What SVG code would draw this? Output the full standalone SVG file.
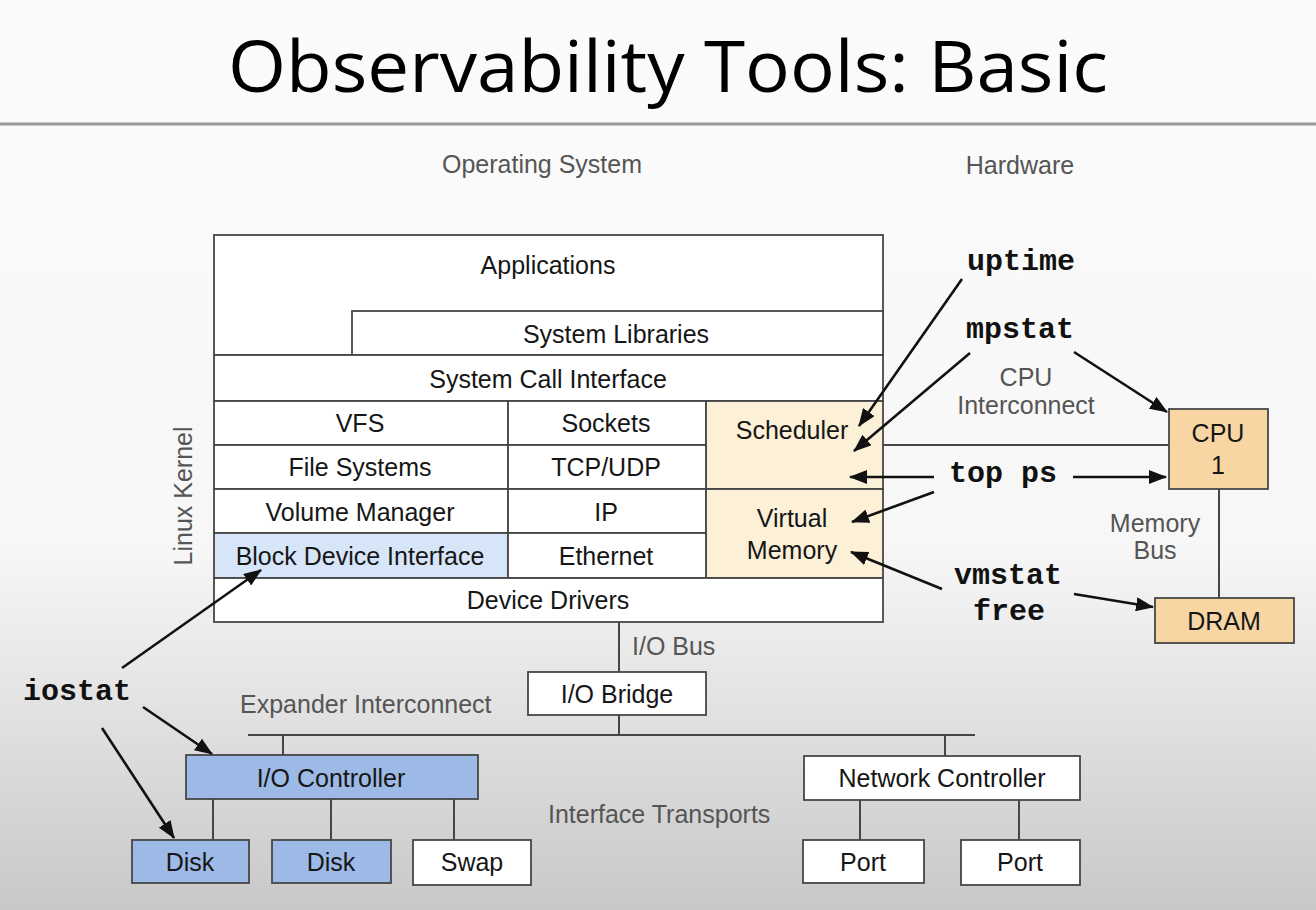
<svg xmlns="http://www.w3.org/2000/svg" width="1316" height="910" viewBox="0 0 1316 910">
  <defs>
    <linearGradient id="bg" x1="0" y1="0" x2="0" y2="1">
      <stop offset="0" stop-color="#fafbfa"/>
      <stop offset="0.6" stop-color="#f6f7f6"/>
      <stop offset="1" stop-color="#c8c8c8"/>
    </linearGradient>
    <marker id="arrow" markerUnits="userSpaceOnUse" markerWidth="18" markerHeight="14" refX="17" refY="7" orient="auto">
      <path d="M0,0 L18,7 L0,14 z" fill="#111"/>
    </marker>
    <style>
      .box { fill: #ffffff; stroke: #464646; stroke-width: 1.8; }
      .sched { fill: #fcf0d7; stroke: #464646; stroke-width: 1.8; }
      .hw { fill: #f8d6a4; stroke: #464646; stroke-width: 1.8; }
      .bdi { fill: #d6e5f8; stroke: #464646; stroke-width: 1.8; }
      .io { fill: #9db9e6; stroke: #464646; stroke-width: 1.8; }
      .lbl { font-family: "Liberation Sans", Arial, sans-serif; font-size: 25px; fill: #161616; text-anchor: middle; }
      .note { font-family: "Liberation Sans", Arial, sans-serif; font-size: 25px; fill: #555; }
      .tool { font-family: "Liberation Mono", "Courier New", monospace; font-size: 30px; font-weight: bold; fill: #111; text-anchor: middle; }
      .wire { stroke: #464646; stroke-width: 2; fill: none; }
      .arr { stroke: #111; stroke-width: 2.6; fill: none; marker-end: url(#arrow); }
    </style>
  </defs>

  <rect x="0" y="0" width="1316" height="910" fill="url(#bg)"/>

  <!-- heading -->
  <text x="668" y="92" font-family="'Open Sans', 'Noto Sans', sans-serif" font-size="72" fill="#000" text-anchor="middle" textLength="880" lengthAdjust="spacingAndGlyphs">Observability Tools: Basic</text>
  <line x1="0" y1="124" x2="1316" y2="124" stroke="#9a9a9a" stroke-width="3"/>

  <!-- section labels -->
  <text class="note" x="542" y="173" text-anchor="middle">Operating System</text>
  <text class="note" x="1020" y="174" text-anchor="middle">Hardware</text>
  <text class="note" transform="translate(192,496) rotate(-90)" text-anchor="middle">Linux Kernel</text>

  <!-- kernel stack -->
  <g id="applications">
    <rect class="box" x="214" y="235" width="669" height="120"/>
    <text class="lbl" x="548" y="274">Applications</text>
  </g>
  <g id="system-libraries">
    <rect class="box" x="352" y="311" width="531" height="44"/>
    <text class="lbl" x="616" y="343">System Libraries</text>
  </g>
  <g id="system-call-interface">
    <rect class="box" x="214" y="355" width="669" height="46"/>
    <text class="lbl" x="548" y="388">System Call Interface</text>
  </g>
  <g id="vfs">
    <rect class="box" x="214" y="401" width="294" height="44"/>
    <text class="lbl" x="360" y="432">VFS</text>
  </g>
  <g id="sockets">
    <rect class="box" x="508" y="401" width="198" height="44"/>
    <text class="lbl" x="606" y="432">Sockets</text>
  </g>
  <g id="scheduler">
    <rect class="sched" x="706" y="401" width="177" height="88"/>
    <text class="lbl" x="792" y="439">Scheduler</text>
  </g>
  <g id="file-systems">
    <rect class="box" x="214" y="445" width="294" height="44"/>
    <text class="lbl" x="360" y="476">File Systems</text>
  </g>
  <g id="tcp-udp">
    <rect class="box" x="508" y="445" width="198" height="44"/>
    <text class="lbl" x="606" y="476">TCP/UDP</text>
  </g>
  <g id="volume-manager">
    <rect class="box" x="214" y="489" width="294" height="44"/>
    <text class="lbl" x="360" y="521">Volume Manager</text>
  </g>
  <g id="ip">
    <rect class="box" x="508" y="489" width="198" height="44"/>
    <text class="lbl" x="606" y="521">IP</text>
  </g>
  <g id="virtual-memory">
    <rect class="sched" x="706" y="489" width="177" height="89"/>
    <text class="lbl" x="792" y="527">Virtual</text>
    <text class="lbl" x="792" y="559">Memory</text>
  </g>
  <g id="block-device-interface">
    <rect class="bdi" x="214" y="533" width="294" height="45"/>
    <text class="lbl" x="360" y="565">Block Device Interface</text>
  </g>
  <g id="ethernet">
    <rect class="box" x="508" y="533" width="198" height="45"/>
    <text class="lbl" x="606" y="565">Ethernet</text>
  </g>
  <g id="device-drivers">
    <rect class="box" x="214" y="578" width="669" height="44"/>
    <text class="lbl" x="548" y="609">Device Drivers</text>
  </g>

  <!-- hardware -->
  <g id="cpu">
    <rect class="hw" x="1169" y="409" width="99" height="80"/>
    <text class="lbl" x="1218" y="442">CPU</text>
    <text class="lbl" x="1218" y="474">1</text>
  </g>
  <g id="dram">
    <rect class="hw" x="1155" y="598" width="139" height="45"/>
    <text class="lbl" x="1224" y="630">DRAM</text>
  </g>
  <text class="note" x="1026" y="386" text-anchor="middle">CPU</text>
  <text class="note" x="1026" y="414" text-anchor="middle">Interconnect</text>
  <text class="note" x="1155" y="532" text-anchor="middle">Memory</text>
  <text class="note" x="1155" y="559" text-anchor="middle">Bus</text>

  <!-- I/O path -->
  <text class="note" x="632" y="655">I/O Bus</text>
  <g id="io-bridge">
    <rect class="box" x="528" y="672" width="178" height="43"/>
    <text class="lbl" x="617" y="703">I/O Bridge</text>
  </g>
  <text class="note" x="240" y="713">Expander Interconnect</text>
  <g id="io-controller">
    <rect class="io" x="186" y="755" width="292" height="44"/>
    <text class="lbl" x="331" y="787">I/O Controller</text>
  </g>
  <g id="disk-1">
    <rect class="io" x="132" y="840" width="117" height="43"/>
    <text class="lbl" x="190" y="871">Disk</text>
  </g>
  <g id="disk-2">
    <rect class="io" x="272" y="840" width="119" height="43"/>
    <text class="lbl" x="331" y="871">Disk</text>
  </g>
  <g id="swap">
    <rect class="box" x="413" y="840" width="118" height="45"/>
    <text class="lbl" x="472" y="871">Swap</text>
  </g>
  <text class="note" x="548" y="823">Interface Transports</text>
  <g id="network-controller">
    <rect class="box" x="804" y="756" width="276" height="44"/>
    <text class="lbl" x="942" y="787">Network Controller</text>
  </g>
  <g id="port-1">
    <rect class="box" x="803" y="840" width="121" height="43"/>
    <text class="lbl" x="863" y="871">Port</text>
  </g>
  <g id="port-2">
    <rect class="box" x="961" y="840" width="119" height="45"/>
    <text class="lbl" x="1020" y="871">Port</text>
  </g>

  <!-- tools -->
  <g id="tools">
    <text class="tool" x="1021" y="270">uptime</text>
    <text class="tool" x="1020" y="338">mpstat</text>
    <text class="tool" x="1003" y="482">top ps</text>
    <text class="tool" x="1008" y="584">vmstat</text>
    <text class="tool" x="1009" y="620">free</text>
    <text class="tool" x="77" y="700">iostat</text>
  </g>

  <!-- connectors, drawn over the boxes so arrowheads land inside them -->
  <g id="connectors">
    <line class="wire" x1="883" y1="445" x2="1169" y2="445"/>
    <line class="wire" x1="1219" y1="489" x2="1219" y2="598"/>
    <line class="wire" x1="619" y1="622" x2="619" y2="672"/>
    <line class="wire" x1="619" y1="715" x2="619" y2="735"/>
    <line class="wire" x1="248" y1="735" x2="975" y2="735"/>
    <line class="wire" x1="283" y1="735" x2="283" y2="755"/>
    <line class="wire" x1="945" y1="735" x2="945" y2="756"/>
    <line class="wire" x1="213" y1="799" x2="213" y2="840"/>
    <line class="wire" x1="331" y1="799" x2="331" y2="840"/>
    <line class="wire" x1="454" y1="799" x2="454" y2="840"/>
    <line class="wire" x1="860" y1="800" x2="860" y2="840"/>
    <line class="wire" x1="1019" y1="800" x2="1019" y2="840"/>

    <!-- tool arrows -->
    <line class="arr" x1="962" y1="279" x2="859" y2="426"/>
    <line class="arr" x1="970" y1="353" x2="854" y2="451"/>
    <line class="arr" x1="1074" y1="352" x2="1167" y2="412"/>
    <line class="arr" x1="934" y1="477" x2="850" y2="477"/>
    <line class="arr" x1="1073" y1="477" x2="1166" y2="477"/>
    <line class="arr" x1="934" y1="492" x2="852" y2="522"/>
    <line class="arr" x1="942" y1="589" x2="851" y2="552"/>
    <line class="arr" x1="1074" y1="594" x2="1153" y2="607"/>
    <line class="arr" x1="122" y1="668" x2="261" y2="570"/>
    <line class="arr" x1="143" y1="707" x2="212" y2="754"/>
    <line class="arr" x1="102" y1="728" x2="174" y2="838"/>
  </g>
</svg>
